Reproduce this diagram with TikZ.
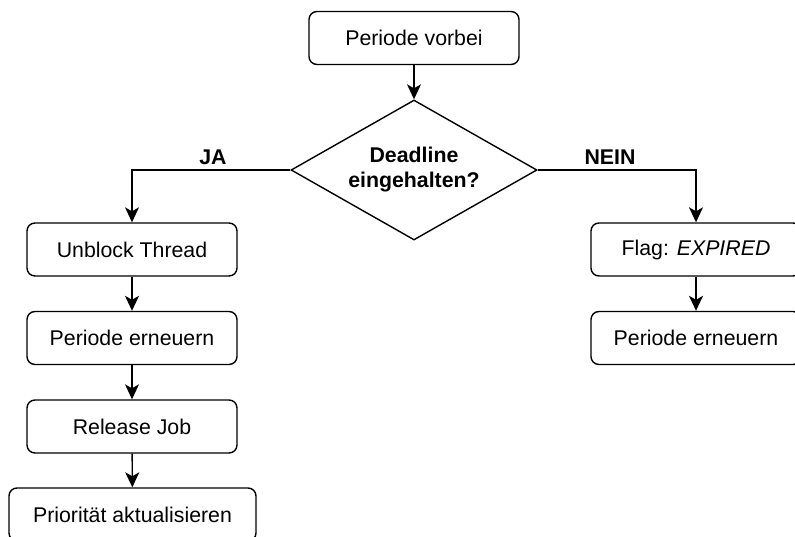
\documentclass[tikz,border=0pt]{standalone}
\usepackage{fontspec}
\setmainfont{Liberation Sans}
\usetikzlibrary{shapes.geometric,arrows.meta}
\begin{document}
\begin{tikzpicture}[x=1pt,y=-1pt,
  every node/.style={font=\fontsize{21.3}{25}\selectfont},
  procbox/.style={draw=black,line width=1.4pt,rounded corners=8pt,fill=white,
    minimum width=210pt,minimum height=53pt,inner sep=0pt},
  decision/.style={draw=black,line width=1.4pt,diamond,aspect=1.757,fill=white,
    minimum width=246pt,minimum height=140pt,inner sep=0pt,align=center,
    font=\fontsize{21.3}{25}\selectfont\bfseries},
  branchlabel/.style={font=\fontsize{21.3}{25}\selectfont\bfseries},
  flow/.style={line width=1.4pt,-{Stealth[length=15pt,width=14pt,inset=4pt]}}]
  \fill[white] (0,0) rectangle (795,536);
  \useasboundingbox (0,0) rectangle (795,536);
  \clip (0,0) rectangle (795,536);

  % main decision
  \node[procbox] (start) at (414,38) {Periode vorbei};
  \node[decision] (check) at (414,170) {Deadline\\eingehalten?};

  % deadline met
  \node[procbox] (unblock) at (132,249.5) {Unblock Thread};
  \node[procbox] (renewA) at (132,338) {Periode erneuern};
  \node[procbox] (release) at (132,426.5) {Release Job};
  \node[procbox,minimum width=247pt] (prio) at (132.5,514.5) {Priorität aktualisieren};

  % deadline missed
  \node[procbox] (flag) at (696,249.5) {Flag: \textit{EXPIRED}};
  \node[procbox] (renewB) at (696,338) {Periode erneuern};

  \node[branchlabel] (ja) at (213,157) {JA};
  \node[branchlabel] (nein) at (610,157) {NEIN};

  \draw[flow] (start) -- (check);
  \draw[flow] (check.west) -| (unblock.north);
  \draw[flow] (check.east) -| (flag.north);
  \draw[flow] (unblock) -- (renewA);
  \draw[flow] (renewA) -- (release);
  \draw[flow] (release) -- (prio);
  \draw[flow] (flag) -- (renewB);
\end{tikzpicture}
\end{document}
